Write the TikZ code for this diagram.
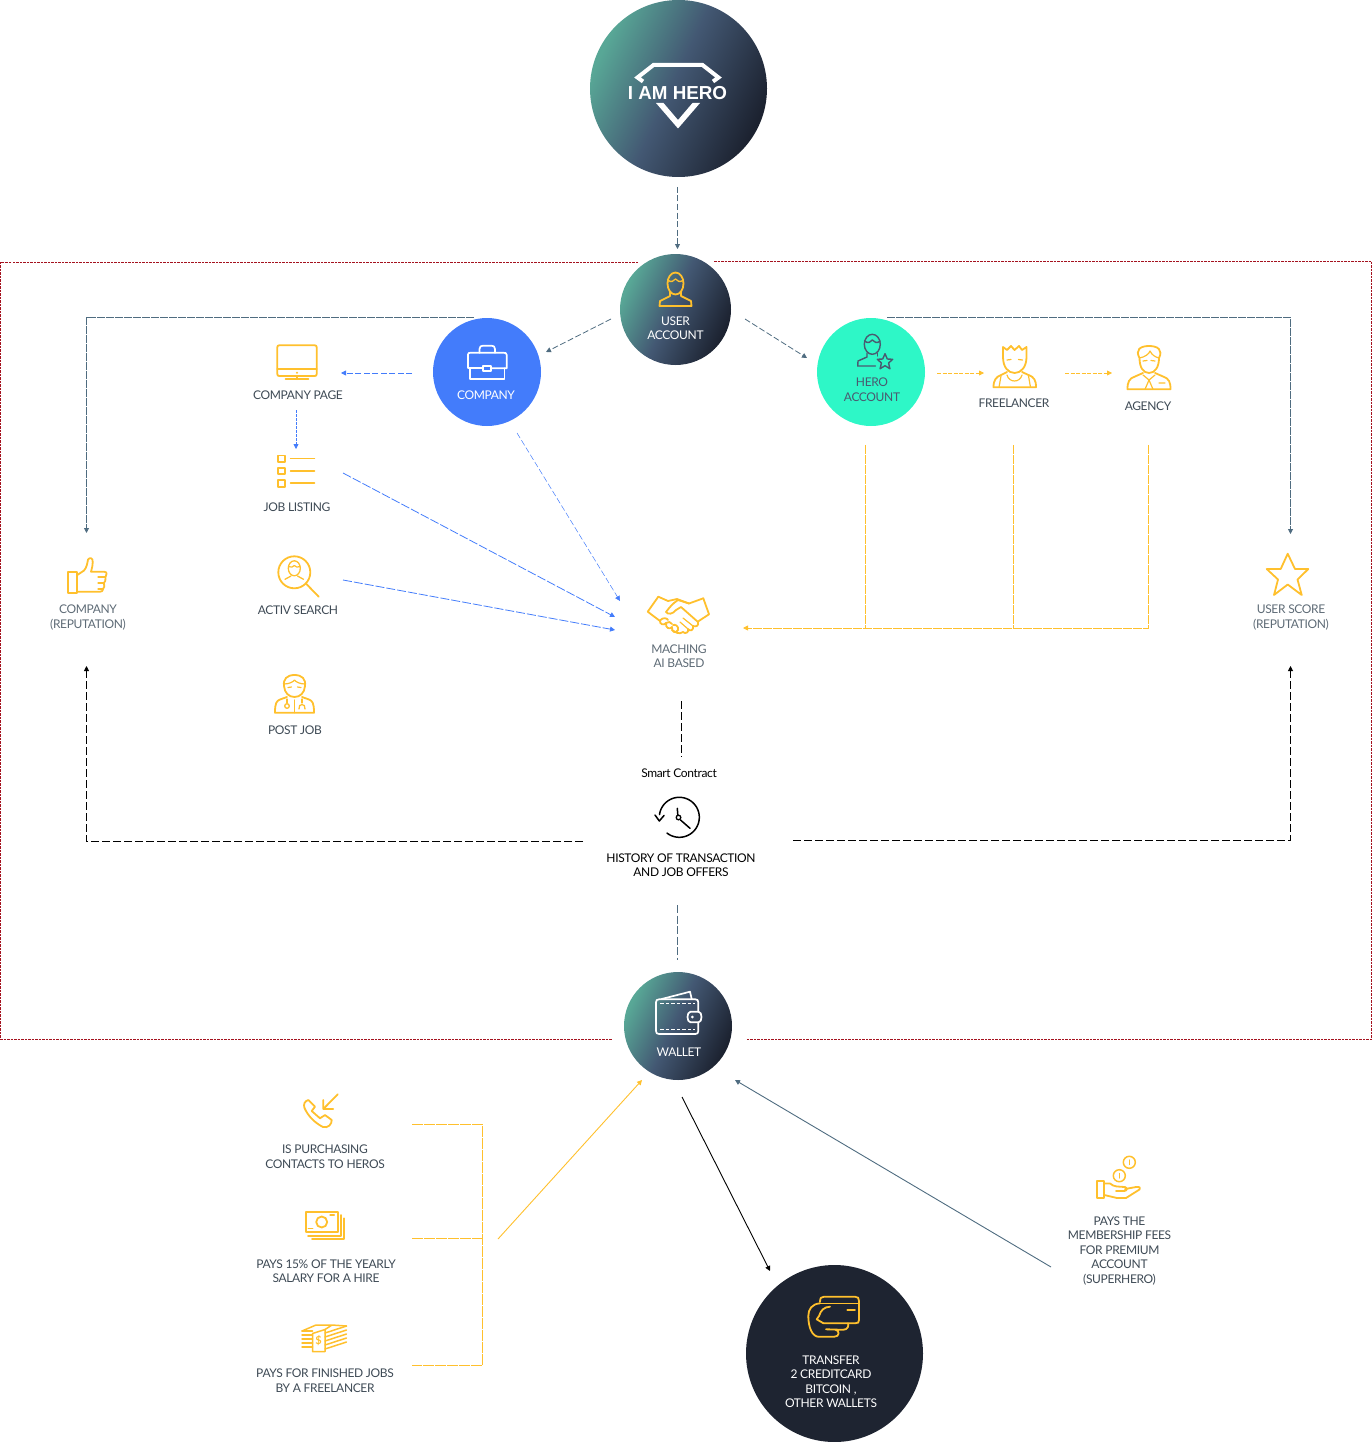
\documentclass[tikz,border=0pt]{standalone}
\usepackage{fontspec}
\setmainfont{Lato}[LetterSpace=-3]
\newfontfamily\plainfont{Lato}
\newfontfamily\logofont{Liberation Sans}[Scale=1]
\usetikzlibrary{arrows.meta}
\definecolor{teal1}{HTML}{58A796}
\definecolor{slate1}{HTML}{435873}
\definecolor{night}{HTML}{1C2230}
\definecolor{deep}{HTML}{1E2431}
\definecolor{gold}{HTML}{FFC02D}
\definecolor{royal}{HTML}{437CFB}
\definecolor{mint}{HTML}{2EF7C7}
\definecolor{steel}{HTML}{4F6C80}
\definecolor{inkt}{HTML}{3E4A55}
\definecolor{grayt}{HTML}{5E6B76}
\definecolor{borderred}{HTML}{A5121F}
\definecolor{heroink}{HTML}{4A5A70}
\pgfdeclarehorizontalshading{herograd}{100bp}{color(0bp)=(teal1); color(26bp)=(teal1); color(48bp)=(slate1); color(74bp)=(night); color(100bp)=(night)}
\tikzset{
  lbl/.style={font=\fontsize{12}{14.5}\selectfont, align=center, text=inkt, inner sep=0pt},
  lblg/.style={lbl, text=grayt},
  lblw/.style={lbl, text=white},
  lblk/.style={lbl, text=black},
  grad/.style={circle, minimum size=#1, inner sep=0pt, shading=herograd, shading angle=-25},
  disc/.style={circle, minimum size=#1, inner sep=0pt},
  icon/.style={draw=gold, line width=1.8pt, line join=round, line cap=round},
  wicon/.style={draw=white, line width=1.7pt, line join=round, line cap=round},
  tipf/.style={-{Triangle[length=5pt,width=5pt]}},
  dsteel/.style={draw=steel, line width=0.8pt, dash pattern=on 6pt off 2.5pt},
  dblue/.style={draw=royal, line width=0.8pt, dash pattern=on 6pt off 2.5pt},
  dgold/.style={draw=gold, line width=0.8pt, dash pattern=on 4pt off 1.5pt},
  dblack/.style={draw=black, line width=0.9pt, dash pattern=on 8pt off 3pt},
  dred/.style={draw=borderred, line width=0.8pt, dash pattern=on 2.5pt off 1pt},
}
\begin{document}
\begin{tikzpicture}[x=1pt,y=-1pt]
\useasboundingbox (0,0) rectangle (1372,1442);

% ---- frame
\coordinate (fa) at (638,262);\coordinate (fb) at (0.5,262);\coordinate (fc) at (0.5,1039);\coordinate (fd) at (612,1039);
\coordinate (fe) at (714,261);\coordinate (ff) at (1371.5,261);\coordinate (fg) at (1371.5,1039);\coordinate (fh) at (746,1039);
\draw[dred] (fa) -- (fb) -- (fc) -- (fd);
\draw[dred] (fe) -- (ff) -- (fg) -- (fh);

% ---- circles
\node[grad=177pt] (hero) at (678.5,88.5) {};
\node[grad=111pt] (user) at (675.5,309.5) {};
\node[disc=108pt, fill=royal] (company) at (487,372) {};
\node[disc=108pt, fill=mint] (heroacc) at (871,372) {};
\node[grad=108pt] (wallet) at (678,1026) {};
\node[disc=177pt, fill=deep] (transfer) at (834.5,1353.5) {};

% ---- labels
\node[inner sep=0pt, text=white, font=\logofont\bfseries\fontsize{18.8}{20}\selectfont] (logo) at (677.5,93) {I AM HERO};
\node[lblw] (tuser) at (675.5,328) {USER\\ACCOUNT};
\node[lblw] (tcompany) at (486,395) {COMPANY};
\node[lbl, text=heroink] (thero) at (872,389.5) {HERO\\ACCOUNT};
\node[lbl] (tpage) at (298,395) {COMPANY PAGE};
\node[lbl] (tjob) at (297,507) {JOB LISTING};
\node[lbl] (tsearch) at (298,610) {ACTIV SEARCH};
\node[lbl] (tpost) at (295,730) {POST JOB};
\node[lbl] (tfree) at (1014,403) {FREELANCER};
\node[lbl] (tagency) at (1148,406) {AGENCY};
\node[lblg] (tcrep) at (88,617.5) {COMPANY\\(REPUTATION)};
\node[lblg] (turep) at (1291,617.5) {USER SCORE\\(REPUTATION)};
\node[lblg] (tmatch) at (679,656) {MACHING\\AI BASED};
\node[lblk] (tsmart) at (679,773) {Smart Contract};
\node[lblk] (thist) at (681,865) {HISTORY OF TRANSACTION\\AND JOB OFFERS};
\node[lblw] (twallet) at (679,1052) {WALLET};
\node[lblw] (ttrans) at (831,1381.5) {TRANSFER\\2 CREDITCARD\\BITCOIN ,\\OTHER WALLETS};
\node[lbl] (tcontacts) at (325,1156.5) {IS PURCHASING\\CONTACTS TO HEROS};
\node[lbl] (tsalary) at (326,1271) {PAYS 15\% OF THE YEARLY\\SALARY FOR A HIRE};
\node[lbl] (tjobs) at (325,1380.5) {PAYS FOR FINISHED JOBS\\BY A FREELANCER};
\node[lbl] (tfees) at (1119.5,1251) {PAYS THE\\MEMBERSHIP FEES\\FOR PREMIUM\\ACCOUNT\\(SUPERHERO)};

% ---- logo shape
\draw[white, line width=4pt, line join=miter] (643,81.5) -- (637.5,77.5) -- (653.5,65) -- (702.5,65) -- (718.5,77.5) -- (713,81.5);
\fill[white] (656,103) -- (678,128.5) -- (700,103) -- (692.5,103) -- (678,120) -- (663.5,103) -- cycle;

% ---- user icon
\draw[icon] (675.5,283.5) ellipse (8 and 11);
\draw[icon, line width=1.3pt] (667.5,280) .. controls (671,283) and (674,281) .. (675.5,279) .. controls (677,281) and (680,283) .. (683.5,280);
\draw[icon] (670,292) -- (670,296) -- (660,301) -- (659.5,306) -- (691.5,306) -- (691,301) -- (681,296) -- (681,292);

% ---- briefcase
\draw[wicon] (467.8,355) .. controls (467.8,353) and (469,352.7) .. (471,352.7) -- (503,352.7) .. controls (505.5,352.7) and (506.7,353) .. (506.7,355) -- (506.7,368.3) -- (490.7,368.3);
\draw[wicon] (482.7,368.3) -- (467.8,368.3) -- (467.8,355);
\draw[wicon] (470,368.3) -- (470,379.3) -- (504.5,379.3) -- (504.5,368.3);
\draw[wicon] (479.5,352.7) -- (479.5,349) .. controls (479.5,346.5) and (481,345.7) .. (483,345.7) -- (491.5,345.7) .. controls (493.5,345.7) and (495,346.5) .. (495,349) -- (495,352.7);
\draw[wicon] (482.7,365.7) rectangle (490.7,371);

% ---- hero account icon
\begin{scope}[draw=heroink, line width=1.4pt, line join=round, line cap=round]
\draw (872.3,344.3) ellipse (8 and 10);
\draw (864.5,341) .. controls (868,344) and (871,342) .. (872.3,340) .. controls (874,342) and (877,344) .. (880,341);
\draw (867,353) -- (867,357) -- (858,361) -- (857.7,366) -- (875.5,366);
\draw (877.5,353) -- (877.5,356);
\draw (885,353.7) -- (887.3,359) -- (892.7,359.3) -- (888.6,363) -- (889.9,368.7) -- (885,365.7) -- (880.1,368.7) -- (881.4,363) -- (877.3,359.3) -- (882.7,359) -- cycle;
\end{scope}

% ---- freelancer
\draw[icon] (1003,357) -- (1003,347) -- (1007,350) -- (1011,346) -- (1014.5,350) -- (1019,346) -- (1022,350) -- (1026.5,347) -- (1026.5,357) .. controls (1026.5,367) and (1021,373) .. (1014.7,373) .. controls (1008,373) and (1003,367) .. (1003,357) -- cycle;
\draw[icon, line width=1.2pt] (1007,360) -- (1011,359.5) (1018.5,359.5) -- (1022.5,360);
\draw[icon] (1007,372) -- (1001,375) .. controls (996,377) and (993.5,380) .. (993.5,387.3) -- (1036,387.3) .. controls (1036,380) and (1034,377) .. (1028.5,375) -- (1022,372);
\draw[icon, line width=1.2pt] (1001,376) -- (999,387.3) (1028.5,376) -- (1030.5,387.3) (1007,375) .. controls (1009,383) and (1020,383) .. (1022,375);

% ---- agency
\draw[icon] (1139.5,358) .. controls (1135,350) and (1140,346) .. (1149,346) .. controls (1158,346) and (1163,350) .. (1159,358) .. controls (1159,367) and (1155,373) .. (1149,373) .. controls (1143,373) and (1139.5,367) .. (1139.5,358) -- cycle;
\draw[icon, line width=1.2pt] (1139.5,358) .. controls (1145,357) and (1149,354) .. (1150,351) .. controls (1152,355) and (1155,357) .. (1159,358);
\draw[icon, line width=1.2pt] (1143,361) -- (1147,360.5) (1151,360.5) -- (1155,361);
\draw[icon] (1143,373) -- (1135,376.5) .. controls (1129,378.5) and (1127.5,382) .. (1127.5,389.3) -- (1170.5,389.3) .. controls (1170.5,382) and (1169,378.5) .. (1163,376.5) -- (1155,373);
\draw[icon, line width=1.2pt] (1143,375) -- (1149,380) -- (1155,375) (1149,380) -- (1145,389.3) (1149,380) -- (1153,389.3) (1159,383) -- (1165,383);

% ---- monitor
\draw[icon] (279.3,345.3) -- (314.7,345.3) .. controls (316,345.3) and (316.7,346) .. (316.7,347.3) -- (316.7,374) .. controls (316.7,375.3) and (316,376) .. (314.7,376) -- (279.3,376) .. controls (278,376) and (277.3,375.3) .. (277.3,374) -- (277.3,347.3) .. controls (277.3,346) and (278,345.3) .. (279.3,345.3) -- cycle;
\draw[icon] (277.3,369.3) -- (316.7,369.3) (297,376) -- (297,379.3) (285.5,379.3) -- (308.5,379.3);
\fill[gold] (297,372.7) circle (1.1);

% ---- job listing
\draw[icon] (278.3,455.5) rectangle (285,462) (278.3,467.7) rectangle (285,474.3) (278.3,480) rectangle (285,486.7);
\draw[icon, line width=1.5pt] (290.5,458.6) -- (314.5,458.6) (290.5,471) -- (314.5,471) (290.5,483) -- (314.5,483);

% ---- search
\draw[icon] (294.3,572.3) circle (16);
\draw[icon] (305.7,583.3) -- (318.7,596.7);
\draw[icon, line width=1.3pt] (294.3,568.3) ellipse (6 and 7.5);
\draw[icon, line width=1.3pt] (285,579.3) -- (291,576) (297.5,576) -- (303.5,579.3);
\draw[icon, line width=1.2pt] (288.5,566.5) .. controls (291,568) and (293,567) .. (294.3,565.5) .. controls (295.5,567) and (298,568) .. (300,566.5);

% ---- post job
\draw[icon] (284,686) .. controls (283,679) and (287,675) .. (294.5,675) .. controls (302,675) and (306,679) .. (305,686) .. controls (304.5,693) and (300,697) .. (294.5,697) .. controls (289,697) and (284.5,693) .. (284,686) -- cycle;
\draw[icon, line width=1.2pt] (284,684) .. controls (289,684) and (293,682) .. (294.5,680) .. controls (296,682) and (300,684) .. (305,684);
\draw[icon, line width=1.2pt] (288,687.5) -- (291.5,687) (297.5,687) -- (301,687.5);
\draw[icon] (287,697) -- (280,699.5) .. controls (276.5,701) and (275,703) .. (275,712.7) -- (314,712.7) .. controls (314,703) and (312.5,701) .. (309,699.5) -- (302,697);
\draw[icon, line width=1.3pt] (294.5,700) -- (294.5,712.7) (287,699) -- (287,703) (302,699) -- (302,703);
\draw[icon, line width=1.3pt] (287,706) circle (2.3);
\draw[icon, line width=1.3pt] (299,709) .. controls (298,703) and (306,703) .. (305,709);

% ---- thumb
\draw[icon] (68.3,572.3) rectangle (77.3,593.3);
\draw[icon] (77.3,575) -- (84,570.5) .. controls (86.5,568) and (87.5,563) .. (88,559.5) .. controls (90,557) and (93,558) .. (92.7,562) .. controls (92.7,566) and (91.7,569) .. (91,571.7) -- (104,571.7) .. controls (107.5,571.7) and (107,575) .. (105.5,577) .. controls (106,580) and (105,582) .. (104,583) .. controls (105,586) and (104,588) .. (103,589) .. controls (103,591) and (102,591.7) .. (100,591.7) -- (77.3,591.7);
\draw[icon, line width=1.2pt] (98,577) -- (105.5,577) (98,583) -- (104,583) (98,589) -- (103,589);

% ---- star
\draw[icon] (1287.7,553.7) -- (1295,569) -- (1308.3,569) -- (1297.5,579.5) -- (1301.7,595) -- (1287.7,584.5) -- (1274,595) -- (1278,579.5) -- (1266.7,569) -- (1280.7,569) -- cycle;

% ---- handshake
\draw[icon] (658.3,596.7) -- (647.7,611.7) -- (660,621);
\draw[icon] (703.3,598.3) -- (709,614.3) -- (698,621.5);
\draw[icon] (658.3,596.7) -- (668,601) -- (677,599) -- (689,603.5) -- (703.3,598.3);
\draw[icon] (689,603.5) -- (678,600) .. controls (673,603) and (669,608) .. (666,612) .. controls (668,615) and (673,614) .. (676,610) -- (681,607) -- (698,622) .. controls (699,626) and (696,627) .. (693,626) .. controls (694,630) and (690,632) .. (688,629) .. controls (689,633) and (685,634) .. (683,632) .. controls (679,635) and (675,632) .. (672,630);
\draw[icon] (660,620.5) .. controls (659,624) and (664,626) .. (666,623) .. controls (665,628) and (670,630) .. (672,627) .. controls (671,632) and (676,634) .. (678,630) .. controls (679,626) and (675,624) .. (673,625);
\draw[icon] (660,620.5) .. controls (663,617) and (667,618) .. (668,620) (666,623) .. controls (668,621) and (671,622) .. (672,624);
\draw[icon, line width=1.2pt] (683,618) -- (693,626) (680,622) -- (688,629);

% ---- clock
\draw[black, line width=1.5pt, line cap=round] plot[domain=128:-172, samples=60, smooth] ({679.3+20*cos(\x)},{817.3+20*sin(\x)});
\draw[black, line width=1.5pt, line cap=round, line join=round] (655,815) -- (659.3,821) -- (664,815.5);
\draw[black, line width=1.5pt, line cap=round] (677.3,808.3) -- (677.8,815) (680.5,820) -- (690,828.3);
\draw[black, line width=1.3pt] (678.5,817.5) circle (2.3);

% ---- wallet icon
\draw[wicon] (698.3,1011.7) -- (698.3,1002.3) .. controls (698.3,1000.3) and (697.3,999.3) .. (695.3,999.3) -- (659,999.3) .. controls (657,999.3) and (656,1000.3) .. (656,1002.3) -- (656,1031) .. controls (656,1033) and (657,1034) .. (659,1034) -- (695.3,1034) .. controls (697.3,1034) and (698.3,1033) .. (698.3,1031) -- (698.3,1022.3);
\draw[wicon] (661.7,999) -- (690,991.7) -- (691.7,999);
\draw[wicon] (690.5,1011.7) -- (698.5,1011.7) .. controls (702.5,1011.7) and (702.5,1022.3) .. (698.5,1022.3) -- (690.5,1022.3) .. controls (686.5,1022.3) and (686.5,1011.7) .. (690.5,1011.7) -- cycle;
\fill[white] (692.3,1017) circle (1.5);
\draw[white, line width=1.4pt, dash pattern=on 3.5pt off 2pt] (660,1003.3) -- (695,1003.3) (660,1029.7) -- (695,1029.7);

% ---- card hand
\draw[icon] (820,1302) .. controls (820,1298) and (821,1296.7) .. (824,1296.7) -- (855,1296.7) .. controls (858,1296.7) and (859,1298) .. (859,1301) -- (859,1320) .. controls (859,1322.5) and (858,1323.3) .. (855,1323.3) -- (823.5,1323.3);
\draw[icon] (820,1303.5) -- (859,1303.5);
\draw[icon] (830,1306.7) .. controls (824,1307) and (821,1310) .. (819,1316) -- (816.7,1319.3) -- (823.5,1323.3);
\draw[icon] (820,1303.3) .. controls (812,1304) and (808.3,1309) .. (808.3,1316) .. controls (808.3,1327) and (812,1336.8) .. (819,1336.8) -- (834,1336.8) .. controls (840,1337) and (840,1330) .. (835,1329.5) -- (826,1329.3) -- (843,1329.8) .. controls (848,1330) and (849,1325) .. (848,1323.3);
\draw[icon] (847.3,1310) -- (855,1310);

% ---- phone
\draw[icon] (308.3,1100) .. controls (305,1101) and (303,1104) .. (304.5,1108) .. controls (308,1116) and (315,1123) .. (323,1127) .. controls (328,1128.5) and (332,1124) .. (331.7,1120) -- (325,1115) -- (320,1118.3) -- (311.7,1111) -- (315,1106.7) -- cycle;
\draw[icon] (337.7,1094.3) -- (323.3,1109) (323.3,1100) -- (323.3,1109) -- (333.3,1109);

% ---- bills
\draw[icon] (305.7,1211.7) rectangle (337.7,1231.7);
\draw[icon] (321.7,1222) circle (5.5);
\draw[icon, line width=1.3pt] (308.3,1228.3) -- (312.7,1228.3) (330,1215) -- (334.3,1215);
\draw[icon] (308,1235.7) -- (341,1235.7) -- (341,1215);
\draw[icon] (312,1239.3) -- (344.3,1239.3) -- (344.3,1218.3);

% ---- money stack
\draw[icon, line width=1.5pt] (312.5,1333.5) -- (325,1329.5) -- (325,1351.5) -- (312.5,1351.5) -- cycle;
\draw[icon, line width=1.5pt] (302,1331) -- (312.5,1331) (302,1335) -- (312.5,1335) (302,1339) -- (312.5,1339) (302,1343) -- (312.5,1343) (302,1347) -- (312.5,1347);
\draw[icon, line width=1.5pt] (302,1331) -- (316,1325) -- (332,1325) -- (325,1329.5) (332,1325) -- (346.5,1326);
\draw[icon, line width=1.5pt] (325,1333) -- (346.5,1326) (325,1337) -- (346.5,1330) (325,1341) -- (346.5,1334) (325,1345) -- (346.5,1338) (325,1349) -- (346.5,1342);
\node[inner sep=0pt, text=gold, font=\plainfont\bfseries\fontsize{11}{11}\selectfont] (dollar) at (318.5,1341) {\$};

% ---- palm and coins
\draw[icon, line width=1.5pt] (1129.3,1162.3) circle (6) (1119.3,1175.7) circle (6);
\draw[icon, line width=1.2pt] (1129.3,1160) -- (1129.3,1164.5) (1119.3,1173.5) -- (1119.3,1178);
\draw[icon] (1096.7,1181) rectangle (1104.3,1197.7);
\draw[icon] (1104.3,1183.5) -- (1110,1183.5) .. controls (1114,1187) and (1118,1186.5) .. (1125,1187) .. controls (1128,1188) and (1127,1191) .. (1124,1191) -- (1116,1191) (1125,1189) -- (1136,1187) .. controls (1140,1186.5) and (1141,1188) .. (1139.5,1189.5) -- (1126,1198) -- (1117,1198) -- (1104.3,1195);

% ---- connectors: free ends
\coordinate (a1) at (677.5,187);\coordinate (a2) at (677.5,249);
\coordinate (b1) at (611,319);\coordinate (b2) at (546,352);
\coordinate (c1) at (745,319);\coordinate (c2) at (807,358);
\coordinate (d1) at (474,317);\coordinate (d2) at (86.5,317);\coordinate (d3) at (86.5,533);
\coordinate (e1) at (887,317);\coordinate (e2) at (1290.5,317);\coordinate (e3) at (1290.5,534);
\coordinate (f1) at (412,373);\coordinate (f2) at (341,373);
\coordinate (g1) at (296,410);\coordinate (g2) at (296,449);
\coordinate (h1) at (343,473);\coordinate (h2) at (615,617);
\coordinate (i1) at (343,580);\coordinate (i2) at (615,630);
\coordinate (j1) at (517,433);\coordinate (j2) at (620,601);
\coordinate (k1) at (937,373);\coordinate (k2) at (984,373);
\coordinate (l1) at (1065,373);\coordinate (l2) at (1112,373);
\coordinate (m1) at (865.5,445);\coordinate (m2) at (865.5,628);
\coordinate (n1) at (1013.5,445);\coordinate (n2) at (1013.5,628);
\coordinate (o1) at (1148.5,445);\coordinate (o2) at (1148.5,628);\coordinate (o3) at (743,628);
\coordinate (p1) at (681.5,701);\coordinate (p2) at (681.5,757);
\coordinate (q1) at (583,841);\coordinate (q2) at (86.5,841);\coordinate (q3) at (86.5,666);
\coordinate (r1) at (793,840);\coordinate (r2) at (1290.5,840);\coordinate (r3) at (1290.5,666);
\coordinate (s1) at (677.5,905);\coordinate (s2) at (677.5,960);
\coordinate (t1) at (412,1124);\coordinate (t2) at (482.5,1124);\coordinate (t3) at (482.5,1365);\coordinate (t4) at (412,1365);
\coordinate (t5) at (412,1238);\coordinate (t6) at (482.5,1238);
\coordinate (u1) at (498,1239);\coordinate (u2) at (642,1080);
\coordinate (v1) at (682,1097);\coordinate (v2) at (770,1271);
\coordinate (w1) at (1051,1267);\coordinate (w2) at (735,1080);

\draw[dsteel, tipf] (a1) -- (a2);
\draw[dsteel, tipf] (b1) -- (b2);
\draw[dsteel, tipf] (c1) -- (c2);
\draw[dsteel, tipf, dash pattern=on 8pt off 1pt] (d1) -- (d2) -- (d3);
\draw[dsteel, tipf, dash pattern=on 8pt off 1pt] (e1) -- (e2) -- (e3);
\draw[dblue, tipf] (f1) -- (f2);
\draw[dblue, tipf, dash pattern=on 3pt off 1pt] (g1) -- (g2);
\draw[dblue, tipf, dash pattern=on 9pt off 2pt] (h1) -- (h2);
\draw[dblue, tipf, dash pattern=on 9pt off 2pt] (i1) -- (i2);
\draw[dblue, tipf, line width=0.5pt] (j1) -- (j2);
\draw[dgold, tipf] (k1) -- (k2);
\draw[dgold, tipf] (l1) -- (l2);
\draw[dgold, line width=0.7pt, dash pattern=on 9pt off 1pt] (m1) -- (m2);
\draw[dgold, line width=0.7pt, dash pattern=on 9pt off 1pt] (n1) -- (n2);
\draw[dgold, tipf, dash pattern=on 9pt off 1pt] (o1) -- (o2) -- (o3);
\draw[dblack] (p1) -- (p2);
\draw[dblack, tipf] (q1) -- (q2) -- (q3);
\draw[dblack, tipf] (r1) -- (r2) -- (r3);
\draw[dsteel, dash pattern=on 8pt off 2.5pt] (s1) -- (s2);
\draw[dgold, dash pattern=on 11pt off 1pt] (t1) -- (t2) -- (t3) -- (t4);
\draw[dgold, dash pattern=on 11pt off 1pt] (t5) -- (t6);
\draw[gold, line width=0.9pt, tipf] (u1) -- (u2);
\draw[black, line width=0.9pt, tipf] (v1) -- (v2);
\draw[steel, line width=0.9pt, tipf] (w1) -- (w2);
\end{tikzpicture}
\end{document}
